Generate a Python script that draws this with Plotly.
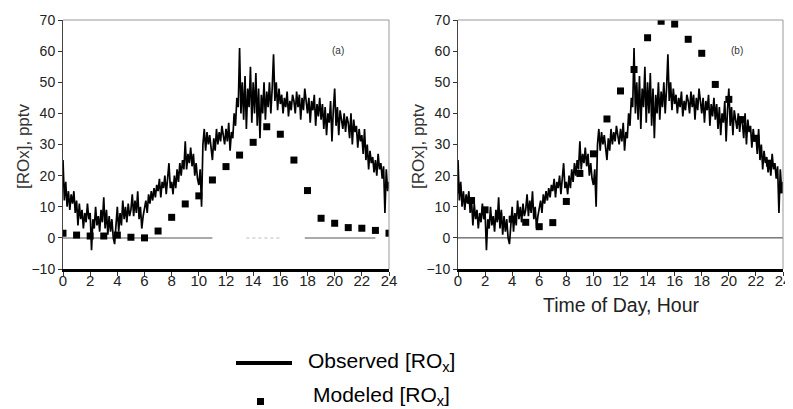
import plotly.graph_objects as go

# ---------------- data ----------------
# Observed [ROx] (pptv), every 0.1 h from 0 to 24 h
obs_hours = [round(i * 0.1, 1) for i in range(241)]
obs_rox = [
    25, 12, 18, 10, 15, 9, 14, 11, 15, 8,
    12, 4, 11, 6, 9, 3, 8, 5, 11, 6,
    8, -4, 6, 3, 10, 4, 7, 2, 9, 5,
    13, 3, 9, 1, 7, 2, 6, 0, -2, 5,
    10, 2, 8, 4, 12, 6, 10, 5, 11, 7,
    9, 14, 7, 12, 8, 15, 6, 10, 3, 7,
    9, 12, 8, 14, 11, 15, 12, 16, 13, 17,
    15, 19, 13, 18, 16, 20, 14, 19, 24, 16,
    18, 14, 20, 16, 22, 18, 24, 20, 25, 22,
    31, 22, 27, 24, 29, 23, 27, 20, 24, 19,
    17, 22, 10, 30, 35, 28, 34, 30, 33, 29,
    25, 32, 28, 35, 30, 34, 31, 36, 33, 30,
    35, 31, 37, 28, 34, 32, 40, 36, 45, 42,
    61, 40, 50, 38, 52, 35, 48, 42, 55, 37,
    50, 40, 53, 36, 48, 32, 46, 40, 50, 38,
    47, 42, 50, 40, 48, 59, 44, 50, 41, 48,
    43, 46, 40, 45, 42, 47, 39, 44, 41, 46,
    44, 40, 47, 42, 46, 38, 45, 41, 48, 43,
    40, 45, 37, 44, 41, 46, 36, 43, 39, 45,
    38, 43, 35, 42, 33, 40, 37, 44, 31, 41,
    48, 36, 42, 33, 41, 38, 35, 40, 34, 39,
    37, 32, 40, 30, 38, 34, 36, 29, 35, 31,
    33, 27, 35, 25, 30, 22, 28, 24, 26, 21,
    25, 20, 27, 22, 24, 19, 23, 8, 22, 15,
    18,
]

# Modeled [ROx] (pptv), hourly
mod_hours = list(range(25))
mod_a = [1.5, 0.9, 0.6, 0.6, 0.9, 0.2, 0.0, 2.2, 6.6, 10.9, 13.5, 18.6, 22.9,
         26.6, 30.7, 35.7, 33.3, 25.0, 15.2, 6.3, 4.7, 3.3, 3.1, 2.4, 1.5]
mod_b = [15.4, 12, 9, 7, 6, 5, 3.6, 4.9, 11.7, 20.7, 27.0, 38.2, 47.2,
         54.1, 64.3, 69.6, 68.7, 63.8, 59.3, 49.3, 44.5, 38, 32, 24, 15.4]

# zero-line segments drawn in panel (a)
zero_a_solid = [(0, 11), (17.8, 23)]
zero_a_faint = [(13.5, 16)]

x_ticks = list(range(0, 25, 2))
y_ticks = list(range(-10, 71, 10))
y_title = "[ROx], pptv"
x_title = "Time of Day, Hour"
panel_labels = ["(a)", "(b)"]

# ---------------- figure ----------------
# page body has an 8px default margin, so the figure is sized/positioned accordingly
OFF = 8
W, H = 793 - OFF, 409 - OFF

def px(x):
    return (x - OFF) / W

def py(y):
    return 1 - (y - OFF) / H

fig = go.Figure()

for xa, ya, mod in (("x", "y", mod_a), ("x2", "y2", mod_b)):
    fig.add_trace(go.Scatter(x=obs_hours, y=obs_rox, mode="lines",
                             line=dict(color="black", width=1.7),
                             xaxis=xa, yaxis=ya, showlegend=False))
    fig.add_trace(go.Scatter(x=mod_hours, y=mod, mode="markers",
                             marker=dict(symbol="square", size=7, color="black"),
                             xaxis=xa, yaxis=ya, showlegend=False))

FONT = "Liberation Sans, Arial"
ydom = [py(269), py(20)]
xdom1 = [px(63), px(389)]
xdom2 = [px(458), px(783)]

def xax(dom, anchor):
    return dict(domain=dom, anchor=anchor, range=[0, 24], tickvals=x_ticks,
                ticks="outside", ticklen=4, tickcolor="#333",
                showline=True, linecolor="black", linewidth=3,
                showgrid=False, zeroline=False, automargin=False,
                ticklabelstandoff=-8,
                tickfont=dict(family=FONT, size=15, color="#222"))

def yax(anchor):
    return dict(domain=ydom, anchor=anchor, range=[-10, 70], tickvals=y_ticks,
                ticks="outside", ticklen=4, tickcolor="#333",
                showline=True, linecolor="#444", linewidth=1,
                showgrid=False, zeroline=False, automargin=False,
                tickfont=dict(family=FONT, size=14, color="#222"))

shapes = []
for xr, yr in (("x", "y"), ("x2", "y2")):
    shapes.append(dict(type="line", xref=f"{xr} domain", yref=f"{yr} domain",
                       x0=0, x1=1, y0=1, y1=1, line=dict(color="#999", width=1)))
    shapes.append(dict(type="line", xref=f"{xr} domain", yref=f"{yr} domain",
                       x0=1, x1=1, y0=0, y1=1, line=dict(color="#999", width=1)))
for a, b in zero_a_solid:
    shapes.append(dict(type="line", xref="x", yref="y", x0=a, x1=b, y0=0, y1=0,
                       line=dict(color="#aaa", width=2), layer="below"))
for a, b in zero_a_faint:
    shapes.append(dict(type="line", xref="x", yref="y", x0=a, x1=b, y0=0, y1=0,
                       line=dict(color="#ddd", width=2, dash="dot"), layer="below"))
shapes.append(dict(type="line", xref="x2 domain", yref="y2", x0=0, x1=1, y0=0, y1=0,
                   line=dict(color="#333", width=1), layer="below"))

# legend (manual)
shapes.append(dict(type="line", xref="paper", yref="paper",
                   x0=px(236), x1=px(292), y0=py(363), y1=py(363),
                   line=dict(color="black", width=4)))
shapes.append(dict(type="rect", xref="paper", yref="paper",
                   x0=px(257), x1=px(264), y0=py(405), y1=py(398),
                   fillcolor="black", line=dict(width=0)))

def ann(text, x, y, size, color="#222", angle=0, xanchor="center"):
    return dict(text=text, x=px(x), y=py(y), xref="paper", yref="paper",
                xanchor=xanchor, yanchor="middle", textangle=angle,
                showarrow=False, font=dict(family=FONT, size=size, color=color))

annotations = [
    ann(y_title, 23, 146, 17, "#333", -90),
    ann(y_title, 418, 146, 17, "#333", -90),
    ann(panel_labels[0], 338, 50, 10, "#333"),
    ann(panel_labels[1], 737, 51, 10, "#333"),
    ann(x_title, 621, 305, 19.5),
    ann("Observed [RO<sub>x</sub>]", 306, 362, 21, "black", 0, "left"),
    ann("Modeled [RO<sub>x</sub>]", 311, 396, 21, "black", 0, "left"),
]

fig.update_layout(
    width=W, height=H, margin=dict(l=0, r=0, t=0, b=0),
    paper_bgcolor="white", plot_bgcolor="white",
    xaxis=xax(xdom1, "y"), yaxis=yax("x"),
    xaxis2=xax(xdom2, "y2"), yaxis2=yax("x2"),
    shapes=shapes, annotations=annotations, showlegend=False,
)

fig.write_html("out.html")
